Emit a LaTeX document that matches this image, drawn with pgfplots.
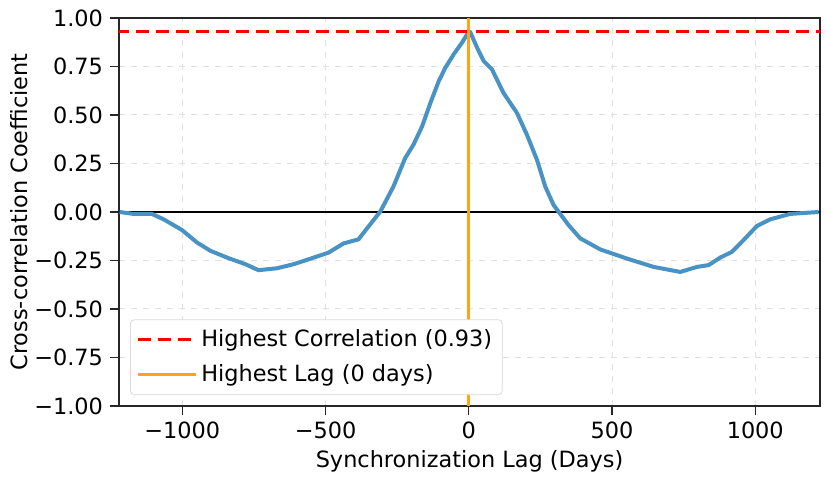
\documentclass[border=0pt]{standalone}
\usepackage{fontspec}
\setmainfont{DejaVu Sans}
\usepackage{pgfplots}
\pgfplotsset{compat=1.18}
\definecolor{cblue}{RGB}{72,146,196}
\definecolor{corange}{RGB}{255,165,20}
\definecolor{gridc}{RGB}{225,225,225}
\newcommand{\fs}{\fontsize{11.2}{13}\selectfont}
\begin{document}
\begin{tikzpicture}
\begin{axis}[
  name=ax,
  scale only axis,
  width=350.5pt, height=194pt,
  xmin=-1221, xmax=1226,
  ymin=-1, ymax=1,
  xtick={-1000,-500,0,500,1000},
  xticklabels={−1000,−500,0,500,1000},
  ytick={-1,-0.75,-0.5,-0.25,0,0.25,0.5,0.75,1},
  yticklabels={−1.00,−0.75,−0.50,−0.25,0.00,0.25,0.50,0.75,1.00},
  tick label style={font=\fs},
  label style={font=\fs},
  xlabel={Synchronization Lag (Days)},
  ylabel={Cross-correlation Coefficient},
  tick align=outside,
  major tick length=4.5pt,
  tick style={black!85, line width=0.6pt},
  axis line style={black!85, line width=0.7pt},
  xtick pos=bottom, ytick pos=left,
  grid=major,
  grid style={gridc, dashed, line width=0.5pt},
  legend style={font=\fs, at={(0.0157,0.028)}, anchor=south west,
    draw=black!15, rounded corners=2pt, row sep=3.5pt,
    inner xsep=3pt, inner ysep=3pt},
  legend cell align=left,
  legend image code/.code={\draw[#1] (0pt,0pt) -- (23.5pt,0pt); \path (0pt,0pt) -- (29pt,0pt);},
  xlabel style={yshift=1pt},
  ylabel style={yshift=-3.5pt},
]
\addplot[black, line width=0.6pt, forget plot] coordinates {(-1300,0) (1300,0)};
\addplot[cblue, line width=2pt, line join=round, forget plot] coordinates {
(-1219,0.000) (-1170,-0.010) (-1106,-0.010) (-1065,-0.038) (-1001,-0.093)
(-949,-0.157) (-902,-0.200) (-844,-0.235) (-780,-0.269) (-734,-0.300)
(-669,-0.290) (-611,-0.269) (-553,-0.241) (-489,-0.209) (-437,-0.162)
(-385,-0.141) (-355,-0.084) (-309,0.002) (-263,0.131) (-222,0.278)
(-193,0.347) (-163,0.441) (-134,0.562) (-105,0.674) (-82,0.743)
(-53,0.812) (-24,0.872) (0,0.930) (5,0.928) (29,0.847) (52,0.778) (81,0.735)
(121,0.614) (168,0.511) (203,0.398) (238,0.269) (267,0.131) (296,0.036)
(348,-0.067) (389,-0.136) (459,-0.193) (552,-0.240) (645,-0.283)
(738,-0.309) (797,-0.283) (837,-0.274) (878,-0.235) (919,-0.205)
(959,-0.145) (1006,-0.072) (1052,-0.038) (1122,-0.010) (1221,0.000)
};
\addplot[red, line width=1.5pt, dash pattern=on 6.5pt off 3.5pt] coordinates {(-1300,0.93) (1300,0.93)};
\addlegendentry{Highest Correlation (0.93)}
\addplot[corange, line width=1.5pt] coordinates {(0,-1) (0,1)};
\addlegendentry{Highest Lag (0 days)}
\end{axis}
\pgfresetboundingbox
\path (ax.south west) ++(-59.5pt,-36pt) coordinate (bl);
\path (ax.north east) ++(5pt,9pt) coordinate (tr);
\useasboundingbox (bl) rectangle (tr);
\end{tikzpicture}
\end{document}
